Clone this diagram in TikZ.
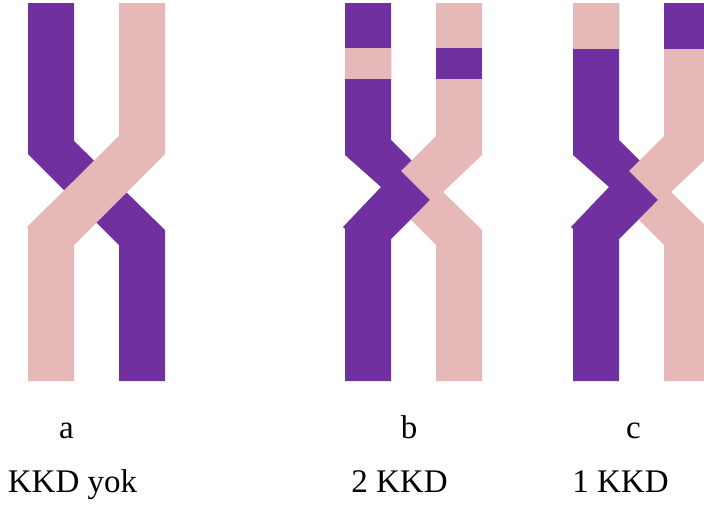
\documentclass[tikz,border=0pt]{standalone}
\usepackage{fontspec}
\setmainfont{Liberation Serif}
\definecolor{chromPurple}{HTML}{7030A0}
\definecolor{chromPink}{HTML}{E6B8B7}
\tikzset{
  purplepart/.style={fill=chromPurple},
  pinkpart/.style={fill=chromPink},
  lettertag/.style={anchor=base, inner sep=0pt, font=\fontsize{33}{33}\selectfont},
  kkdtag/.style={anchor=base, inner sep=0pt, font=\fontsize{33}{33}\selectfont}
}
\begin{document}
\begin{tikzpicture}[x=1pt, y=-1pt]
  \clip (0,0) rectangle (704,506);
  \fill[white] (0,0) rectangle (704,506);

  % --- pair a: simple cross, pink chromatid lying over the purple one
  \fill[purplepart] (28,3) -- (74,3) -- (74,141) -- (165,230) -- (165,381)
    -- (119,381) -- (119,245) -- (28,154) -- cycle;
  \fill[pinkpart] (119,3) -- (165,3) -- (165,154) -- (74,245) -- (74,381)
    -- (28,381) -- (28,228) -- (27,227) -- (119,136) -- cycle;

  % --- interlocked cross used for pairs b and c
  \def\purplechrom{%
    \fill[purplepart] (345,3) -- (391,3) -- (391,140) -- (430,179) -- (430,200)
      -- (391,239) -- (391,381) -- (345,381) -- (345,229) -- (343,227)
      -- (381,187) -- (345,155) -- cycle;}
  \def\pinkchrom{%
    \fill[pinkpart] (436,3) -- (482,3) -- (482,155) -- (443,192) -- (482,230)
      -- (482,381) -- (436,381) -- (436,245) -- (411,220) -- (430,200)
      -- (401,171) -- (436,136) -- cycle;}

  % pair b: two exchanged segments near the top
  \purplechrom
  \pinkchrom
  \fill[pinkpart] (345,48) rectangle (391,79);
  \fill[purplepart] (436,48) rectangle (482,79);

  % pair c: one exchanged segment at the tips
  \begin{scope}[xshift=228pt]
    \purplechrom
    \pinkchrom
    \fill[pinkpart] (345,3) rectangle (391,49);
    \fill[purplepart] (436,3) rectangle (482,49);
  \end{scope}

  % --- labels
  \node[lettertag] (la) at (66.5,438) {a};
  \node[lettertag] (lb) at (409,438) {b};
  \node[lettertag] (lc) at (633.5,438) {c};
  \node[kkdtag] (ka) at (72.5,492) {KKD yok};
  \node[kkdtag] (kb) at (399.5,492) {2 KKD};
  \node[kkdtag] (kc) at (620.5,492) {1 KKD};
\end{tikzpicture}
\end{document}
